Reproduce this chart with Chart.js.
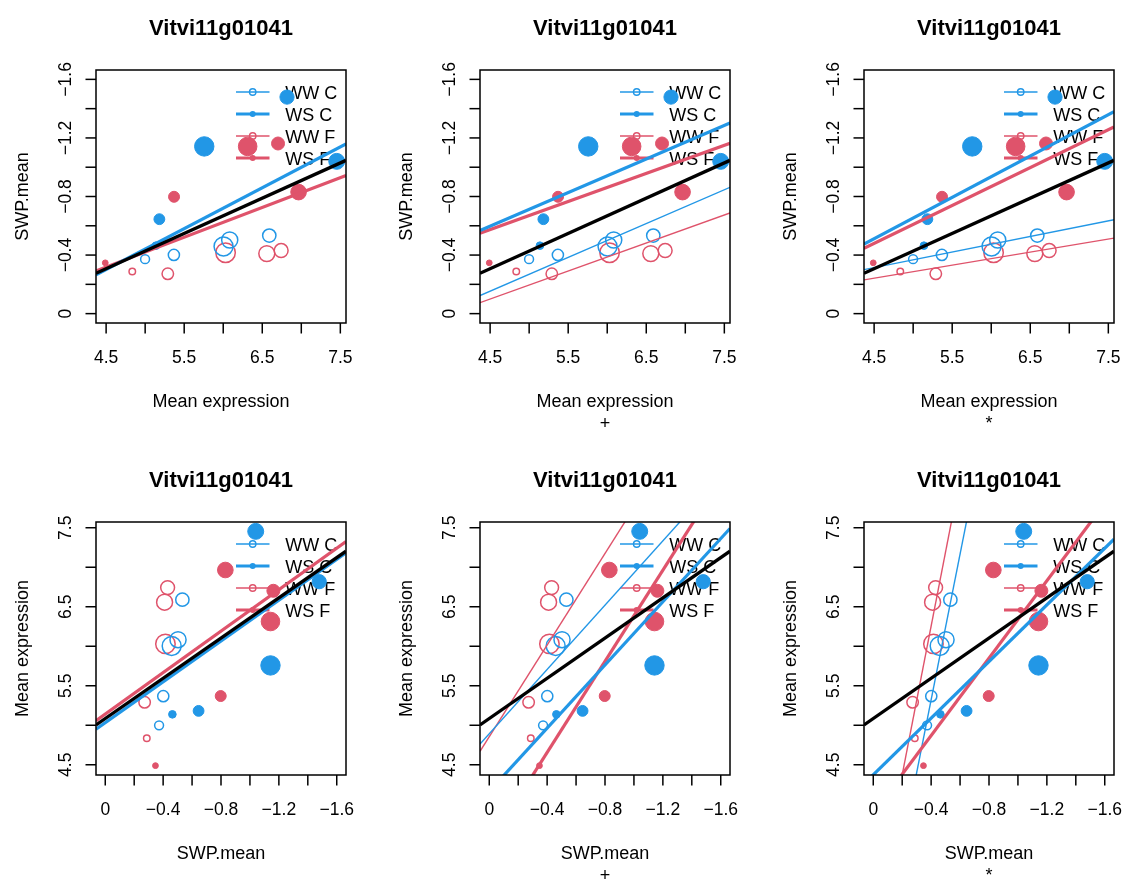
<!DOCTYPE html>
<html>
<head>
<meta charset="utf-8">
<script src="https://cdn.jsdelivr.net/npm/chart.js@4/dist/chart.umd.min.js"></script>
<style>
html,body{margin:0;padding:0;background:#fff;}
body{width:1128px;height:879px;overflow:hidden;position:relative;}
.panel{position:absolute;width:376px;height:440px;}
.panel canvas{display:block;}
</style>
</head>
<body>
<div class="panel" style="left:0px;top:0px"><canvas id="c0" width="376" height="440"></canvas></div>
<div class="panel" style="left:384px;top:0px"><canvas id="c1" width="376" height="440"></canvas></div>
<div class="panel" style="left:768px;top:0px"><canvas id="c2" width="376" height="440"></canvas></div>
<div class="panel" style="left:0px;top:452px"><canvas id="c3" width="376" height="440"></canvas></div>
<div class="panel" style="left:384px;top:452px"><canvas id="c4" width="376" height="440"></canvas></div>
<div class="panel" style="left:768px;top:452px"><canvas id="c5" width="376" height="440"></canvas></div>
<script>
// ---------------- data ----------------
const groupLabels = ['WW C', 'WS C', 'WW F', 'WS F'];

const exprWWC = [4.999, 5.368, 6.004, 6.083, 6.590];
const swpWWC  = [-0.372, -0.401, -0.459, -0.503, -0.533];
const cexWWC  = [1.30, 1.58, 2.55, 2.20, 1.85];

const exprWSC = [5.138, 5.182, 5.757, 6.817, 7.454];
const swpWSC  = [-0.464, -0.645, -1.142, -1.479, -1.040];
const cexWSC  = [1.08, 1.48, 2.55, 1.90, 2.12];

const exprWWF = [4.835, 5.290, 6.030, 6.558, 6.742];
const swpWWF  = [-0.287, -0.272, -0.416, -0.410, -0.431];
const cexWWF  = [1.00, 1.62, 2.62, 2.18, 1.92];

const exprWSF = [4.489, 5.370, 6.313, 6.702, 6.965];
const swpWSF  = [-0.347, -0.798, -1.142, -1.162, -0.830];
const cexWSF  = [0.85, 1.50, 2.45, 1.75, 2.08];

const panelTitle = 'Vitvi11g01041';
const exprName = 'Mean expression';
const swpName = 'SWP.mean';
const subLabels = ['', '+', '*'];
const swpLim = [0, -1.6];

const exprTicks = [4.5, 5, 5.5, 6, 6.5, 7, 7.5];
const exprTickLabels = ['4.5', '', '5.5', '', '6.5', '', '7.5'];
const swpTicks = [0, -0.2, -0.4, -0.6, -0.8, -1.0, -1.2, -1.4, -1.6];
const swpTickLabels = ['0', '', '\u22120.4', '', '\u22120.8', '', '\u22121.2', '', '\u22121.6'];

// fitted lines [intercept, slope]; top row: SWP = a + b*expr
const topAll = [0.776, -0.2407];
const topP1 = [[0.956, -0.2793], [0.596, -0.2032]];                       // C, F
const topP2 = [[0.886, -0.2309], [0.436, -0.2296], [0.760, -0.1911], [0.288, -0.1917]]; // WWC, WSC, WWF, WSF
const topP3 = [[0.164, -0.1063], [0.759, -0.2823], [0.159, -0.0891], [0.684, -0.2587]];
// bottom row: expr = a + b*SWP
const botAll = [5.085, -1.273];
const botP1 = [[5.034, -1.292], [5.141, -1.312]];
const botP2 = [[4.892, -2.035], [4.164, -1.999], [4.856, -2.898], [3.502, -2.884]];
const botP3 = [[1.634, -9.22], [4.373, -1.792], [2.491, -9.41], [3.890, -2.449]];

// ---------------- styling ----------------
const BLUE = '#2297E6', RED = '#DF536B';
const FONT = '"Liberation Sans", Arial, Helvetica, sans-serif';
const RAD = 4;
const THICK = 3.2, THIN = 1.4;

const groups = [
  {expr: exprWWC, swp: swpWWC, cex: cexWWC, color: BLUE, filled: false},
  {expr: exprWSC, swp: swpWSC, cex: cexWSC, color: BLUE, filled: true},
  {expr: exprWWF, swp: swpWWF, cex: cexWWF, color: RED, filled: false},
  {expr: exprWSF, swp: swpWSF, cex: cexWSF, color: RED, filled: true}
];

// R-style axis limits: range extended by 4%
const allExpr = [].concat(exprWWC, exprWSC, exprWWF, exprWSF);
const eMin = Math.min(...allExpr), eMax = Math.max(...allExpr);
const ePad = 0.04 * (eMax - eMin);
const exprLo = eMin - ePad, exprHi = eMax + ePad;
const sPad = 0.04 * Math.abs(swpLim[1] - swpLim[0]);
const swpLo = swpLim[1] - sPad, swpHi = swpLim[0] + sPad;

function fitSpecs(allCoef, list) {
  const out = [];
  if (list.length === 2) {
    out.push({coef: list[0], color: BLUE, width: THICK, order: 1});
    out.push({coef: list[1], color: RED, width: THICK, order: 1});
  } else {
    list.forEach((c, i) => {
      out.push({coef: c, color: groups[i].color, width: groups[i].filled ? THICK : THIN, order: groups[i].filled ? 1 : 2});
    });
  }
  out.push({coef: allCoef, color: '#000', width: 3.3, order: 0});
  return out;
}

function line(ctx, x1, y1, x2, y2) {
  ctx.beginPath(); ctx.moveTo(x1, y1); ctx.lineTo(x2, y2); ctx.stroke();
}

function makePanel(id, top, col, fitList, allCoef) {
  const xMin = top ? exprLo : swpLo, xMax = top ? exprHi : swpHi;
  const yMin = top ? swpLo : exprLo, yMax = top ? swpHi : exprHi;
  const datasets = [];
  fitSpecs(allCoef, fitList).forEach(f => {
    datasets.push({
      type: 'scatter', showLine: true, fill: false, tension: 0,
      data: [xMin, xMax].map(x => ({x: x, y: f.coef[0] + f.coef[1] * x})),
      borderColor: f.color, borderWidth: f.width, pointRadius: 0, pointHoverRadius: 0,
      clip: 0, order: f.order
    });
  });
  groups.forEach(g => {
    const xs = top ? g.expr : g.swp, ys = top ? g.swp : g.expr;
    datasets.push({
      type: 'scatter', showLine: false,
      data: xs.map((x, i) => ({x: x, y: ys[i]})),
      pointRadius: g.cex.map(c => c * RAD - (g.filled ? 0.5 : 0.75)),
      pointHoverRadius: g.cex.map(c => c * RAD - (g.filled ? 0.5 : 0.75)),
      pointBackgroundColor: g.filled ? g.color : 'rgba(0,0,0,0)',
      pointBorderColor: g.color,
      pointBorderWidth: g.filled ? 1 : 1.5,
      order: 10
    });
  });

  const xTicks = top ? exprTicks : swpTicks, xLabs = top ? exprTickLabels : swpTickLabels;
  const yTicks = top ? swpTicks : exprTicks, yLabs = top ? swpTickLabels : exprTickLabels;
  const xName = top ? exprName : swpName, yName = top ? swpName : exprName;

  const plugin = {
    id: 'rbase' + id,
    beforeDatasetsDraw(chart) {
      const ctx = chart.ctx, a = chart.chartArea;
      ctx.save();
      groupLabels.forEach((lab, i) => {
        const g = groups[i];
        const yy = a.top + 22 + i * 22;
        ctx.strokeStyle = g.color; ctx.fillStyle = g.color;
        ctx.lineWidth = g.filled ? THICK : THIN;
        line(ctx, a.left + 140, yy, a.left + 173.5, yy);
        ctx.beginPath();
        if (g.filled) {
          ctx.arc(a.left + 156.7, yy, 3, 0, Math.PI * 2); ctx.fill();
        } else {
          ctx.lineWidth = 1.4;
          ctx.arc(a.left + 156.7, yy, 3.2, 0, Math.PI * 2); ctx.stroke();
        }
        ctx.fillStyle = '#000';
        ctx.font = '18px ' + FONT;
        ctx.textAlign = 'left'; ctx.textBaseline = 'alphabetic';
        ctx.fillText(lab, a.left + 189.3, yy + 6.5);
      });
      ctx.restore();
    },
    afterDraw(chart) {
      const ctx = chart.ctx, a = chart.chartArea;
      const xs = chart.scales.x, ys = chart.scales.y;
      ctx.save();
      ctx.strokeStyle = '#000'; ctx.fillStyle = '#000'; ctx.lineWidth = 1.5;
      ctx.strokeRect(a.left, a.top, a.right - a.left, a.bottom - a.top);
      ctx.font = '17.5px ' + FONT;
      ctx.textBaseline = 'alphabetic'; ctx.textAlign = 'center';
      xTicks.forEach((v, i) => {
        const p = xs.getPixelForValue(v);
        line(ctx, p, a.bottom, p, a.bottom + 10.5);
        if (xLabs[i]) ctx.fillText(xLabs[i], p, a.bottom + 40);
      });
      yTicks.forEach((v, i) => {
        const p = ys.getPixelForValue(v);
        line(ctx, a.left, p, a.left - 10.5, p);
        if (yLabs[i]) {
          ctx.save();
          ctx.translate(a.left - 25, p);
          ctx.rotate(-Math.PI / 2);
          ctx.fillText(yLabs[i], 0, 0);
          ctx.restore();
        }
      });
      const cx = (a.left + a.right) / 2, cy = (a.top + a.bottom) / 2;
      ctx.font = '18px ' + FONT;
      ctx.fillText(xName, cx, a.bottom + 84);
      if (subLabels[col]) ctx.fillText(subLabels[col], cx, a.bottom + 106);
      ctx.save();
      ctx.translate(a.left - 68.5, cy);
      ctx.rotate(-Math.PI / 2);
      ctx.fillText(yName, 0, 0);
      ctx.restore();
      ctx.font = 'bold 22px ' + FONT;
      ctx.fillText(panelTitle, cx, a.top - 35.5);
      ctx.restore();
    }
  };

  new Chart(document.getElementById(id), {
    type: 'scatter',
    data: {datasets: datasets},
    options: {
      responsive: false, animation: false, devicePixelRatio: 1, events: [],
      layout: {padding: {left: 96, top: 70, right: 30, bottom: 117}},
      plugins: {legend: {display: false}, tooltip: {enabled: false}, title: {display: false}},
      scales: {
        x: {type: 'linear', display: false, min: xMin, max: xMax, reverse: !top},
        y: {type: 'linear', display: false, min: yMin, max: yMax, reverse: top}
      }
    },
    plugins: [plugin]
  });
}

makePanel('c0', true, 0, topP1, topAll);
makePanel('c1', true, 1, topP2, topAll);
makePanel('c2', true, 2, topP3, topAll);
makePanel('c3', false, 0, botP1, botAll);
makePanel('c4', false, 1, botP2, botAll);
makePanel('c5', false, 2, botP3, botAll);
</script>
</body>
</html>
